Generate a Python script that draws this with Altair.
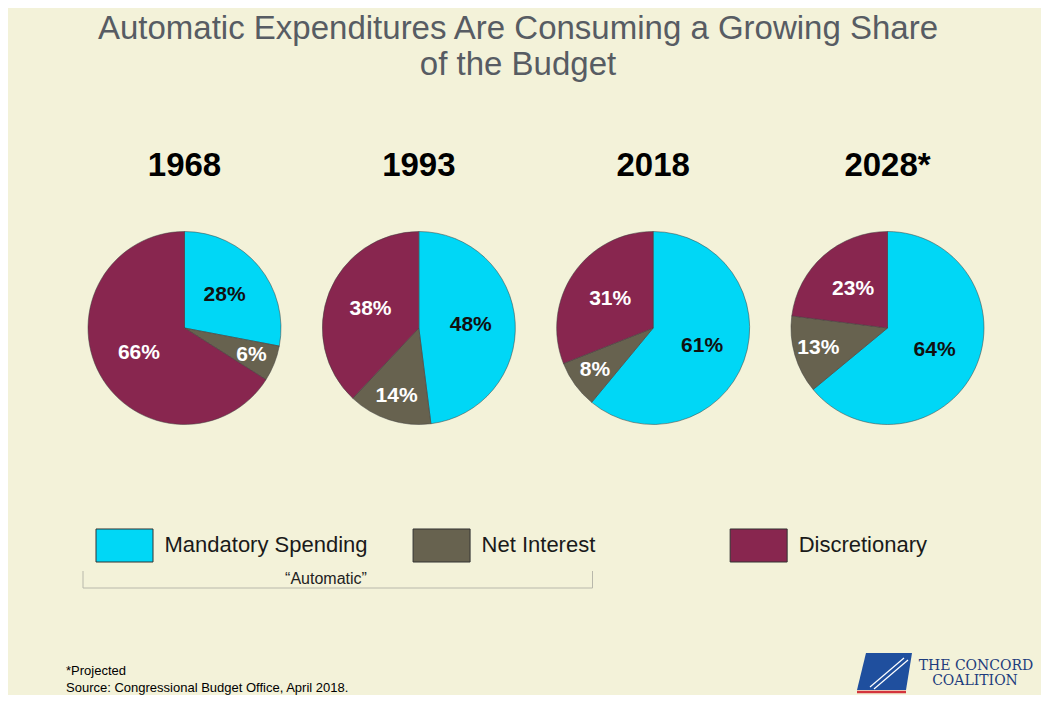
import altair as alt
import pandas as pd

# ---------------- data ----------------
years = ["1968", "1993", "2018", "2028"]
year_labels = ["1968", "1993", "2018", "2028*"]
categories = ["Mandatory Spending", "Net Interest", "Discretionary"]
mandatory = [28, 48, 61, 64]
net_interest = [6, 14, 8, 13]
discretionary = [66, 38, 31, 23]
colors = ["#00d7f6", "#67624f", "#88264f"]

title_lines = ["Automatic Expenditures Are Consuming a Growing Share", "of the Budget"]
bracket_label = "\u201cAutomatic\u201d"
footnotes = ["*Projected", "Source: Congressional Budget Office, April 2018."]
logo_lines = ["THE CONCORD", "COALITION"]

rows = []
for i, yr in enumerate(years):
    for j, (cat, vals) in enumerate(zip(categories, [mandatory, net_interest, discretionary])):
        rows.append({"year": yr, "category": cat, "order": j, "value": vals[i]})
pie_df = pd.DataFrame(rows)
yr_df = pd.DataFrame({"year": years, "label": year_labels})
leg_df = pd.DataFrame({"category": categories})
one = pd.DataFrame({"k": [0]})

W, H = 1033, 687
FONT = "Liberation Sans"
PIE_Y = 320
PIE_R = 96.5

x_pie = alt.X("year:N", scale=alt.Scale(type="point", domain=years, range=[176.5, 879.5], padding=0), axis=None)
x_leg = alt.X("category:N", scale=alt.Scale(type="point", domain=categories, range=[116.5, 750.65], padding=0), axis=None)
theta_scale = alt.Scale(domain=[0, 100])
color = alt.Color("category:N", scale=alt.Scale(domain=categories, range=colors), legend=None)

stacked = alt.Chart(pie_df).transform_stack(
    stack="value", groupby=["year"], as_=["v0", "v1"],
    sort=[alt.SortField("order", order="ascending")],
)

pies = stacked.mark_arc(radius=PIE_R, stroke="#3d3d3d", strokeWidth=0.5).encode(
    x=x_pie,
    y=alt.value(PIE_Y),
    theta=alt.Theta("v0:Q", scale=theta_scale, stack=None),
    theta2="v1:Q",
    color=color,
)

labels = stacked.transform_calculate(
    mid="(datum.v0 + datum.v1) / 2",
    lr="datum.value < 15 ? 72 : 52",
    txt="datum.value + '%'",
    tc="datum.category == 'Mandatory Spending' ? '#111111' : '#ffffff'",
).mark_text(font=FONT, fontSize=21, fontWeight="bold", align="center", baseline="middle").encode(
    x=x_pie,
    y=alt.value(PIE_Y),
    theta=alt.Theta("mid:Q", scale=theta_scale, stack=None),
    radius=alt.Radius("lr:Q", scale=None),
    text="txt:N",
    color=alt.Color("tc:N", scale=None),
)

year_text = alt.Chart(yr_df).mark_text(
    font=FONT, fontSize=33, fontWeight="bold", color="#000000", baseline="middle"
).encode(x=x_pie, y=alt.value(158), text="label:N")

swatch = alt.Chart(leg_df).mark_point(
    shape="M-1,-0.579L1,-0.579L1,0.579L-1,0.579Z", size=57 * 57, filled=True,
    opacity=1, stroke="#333333", strokeWidth=1,
).encode(x=x_leg, y=alt.value(537.5), color=color)

leg_text = alt.Chart(leg_df).mark_text(
    font=FONT, fontSize=22, color="#1a1a1a", align="left", baseline="middle", dx=40
).encode(x=x_leg, y=alt.value(537), text="category:N")

def txt(text, x, y, size, color="#000000", align="center", baseline="middle", font=FONT, weight="normal"):
    return alt.Chart(one).mark_text(
        font=font, fontSize=size, color=color, align=align, baseline=baseline, fontWeight=weight
    ).encode(x=alt.value(x), y=alt.value(y), text=alt.value(text))

def rule(x, y, x2=None, y2=None, color="#b8b8ab", width=1):
    enc = {"x": alt.value(x), "y": alt.value(y)}
    if x2 is not None:
        enc["x2"] = alt.value(x2)
    if y2 is not None:
        enc["y2"] = alt.value(y2)
    return alt.Chart(one).mark_rule(color=color, strokeWidth=width).encode(**enc)

title1 = txt(title_lines[0], 510, 30.5, 33, color="#575c63", baseline="alphabetic")
title2 = txt(title_lines[1], 510, 67, 33, color="#575c63", baseline="alphabetic")

br_h = rule(75, 580, x2=584.5)
br_l = rule(75, 563, y2=580)
br_r = rule(584.5, 563, y2=580)
br_t = txt(bracket_label, 318, 571, 16, color="#222222")

foot1 = txt(footnotes[0], 58, 663, 13, align="left")
foot2 = txt(footnotes[1], 58, 679.5, 13, align="left")

logo_shape = alt.Chart(one).mark_point(
    shape="M-0.673,-0.673L1,-0.673L0.782,0.673L-1,0.673Z", size=55 * 55, filled=True,
    opacity=1, color="#1f4f9e",
).encode(x=alt.value(876.5), y=alt.value(663.5))
logo_w1 = rule(862, 679, x2=896, y2=650, color="#ffffff", width=1.2)
logo_w2 = rule(866, 681, x2=900, y2=652, color="#ffffff", width=1.2)
logo_r1 = rule(849, 684, x2=898, color="#d3343c", width=2.6)
logo_r2 = rule(848, 688.5, x2=898, color="#d3343c", width=2.6)
logo_t1 = txt(logo_lines[0], 968, 658, 14, color="#1d3c7d", font="DejaVu Serif")
logo_t2 = txt(logo_lines[1], 967, 673, 14, color="#1d3c7d", font="DejaVu Serif")

chart = alt.layer(
    pies, labels, year_text, swatch, leg_text,
    title1, title2, br_h, br_l, br_r, br_t, foot1, foot2,
    logo_shape, logo_w1, logo_w2, logo_r1, logo_r2, logo_t1, logo_t2,
).resolve_scale(x="independent").properties(
    width=W, height=H, background="#f3f2d9", padding=0,
    autosize=alt.AutoSizeParams(type="none"),
).configure_view(stroke=None)

chart.save("out.html", embed_options={"renderer": "svg", "actions": False})
